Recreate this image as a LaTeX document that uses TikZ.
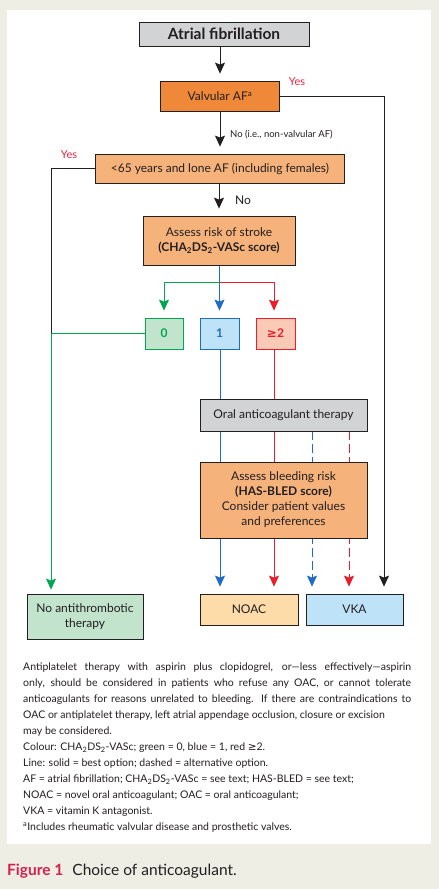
\documentclass[tikz,border=0pt]{standalone}
\usepackage{fontspec}
\setmainfont{Lato}
\newfontfamily\symfont{DejaVu Sans}
\usetikzlibrary{arrows.meta,backgrounds,positioning}

\definecolor{paper}{HTML}{EEEEE4}
\definecolor{ink}{HTML}{231F20}
\definecolor{graybox}{HTML}{D1D3D4}
\definecolor{darkorange}{HTML}{F0883A}
\definecolor{lightorange}{HTML}{F6B27B}
\definecolor{cgreen}{HTML}{00A650}
\definecolor{cblue}{HTML}{1F6CC4}
\definecolor{cred}{HTML}{EC1C2A}
\definecolor{greenfill}{HTML}{C2E4CD}
\definecolor{bluefill}{HTML}{BEE3F8}
\definecolor{pinkfill}{HTML}{F9CAB6}
\definecolor{noacfill}{HTML}{FDDCAA}
\definecolor{yesred}{HTML}{EE2443}
\definecolor{figred}{HTML}{D6204E}

\newcommand{\sub}[1]{\textsubscript{#1}}

\begin{document}
\begin{tikzpicture}[x=1pt, y=-1pt,
    box/.style = {draw=ink, line width=0.8pt, inner sep=0pt, align=center, text=ink,
                  font=\fontsize{12}{15}\selectfont},
    score/.style = {box, minimum width=39pt, minimum height=31pt, font=\fontsize{12}{15}\selectfont\bfseries},
    link/.style = {line width=0.9pt, draw=#1},
    link/.default = ink,
    arr/.style = {link=#1, -{Stealth[length=11pt, width=10pt, inset=2pt, fill=#1]}, shorten >=7pt},
    arr/.default = ink,
    alt/.style = {dash pattern=on 9pt off 4pt},
    yes/.style = {text=yesred, font=\fontsize{11}{13}\selectfont, inner sep=0pt}]

\useasboundingbox (0,0) rectangle (439,889);

% boxes
\node[box, fill=graybox, minimum width=170pt, minimum height=24pt,
      font=\fontsize{15.5}{17}\selectfont\bfseries] (af) at (224,34) {Atrial fibrillation};
\node[box, fill=darkorange, minimum width=119pt, minimum height=30pt] (valv) at (220,96)
      {Valvular AF\textsuperscript{a}};
\node[box, fill=lightorange, minimum width=249pt, minimum height=29pt] (lone) at (220,168.5)
      {<65 years and lone AF (including females)};
\node[box, fill=lightorange, minimum width=152pt, minimum height=49pt] (stroke) at (219,240.5)
      {Assess risk of stroke\\\textbf{(CHA\sub{2}DS\sub{2}-VASc score)}};

\node[score, draw=cgreen, fill=greenfill, text=cgreen, minimum width=38pt] (s0) at (164,333.5) {0};
\node[score, draw=cblue, fill=bluefill, text=cblue] (s1) at (219.5,333.5) {1};
\node[score, draw=cred, fill=pinkfill, text=cred] (s2) at (275.5,333.5) {{\symfont\bfseries ≥}2};

\node[box, fill=graybox, minimum width=167pt, minimum height=32pt] (oac) at (283.5,415)
      {Oral anticoagulant therapy};
\node[box, fill=lightorange, minimum width=167pt, minimum height=76pt] (bleed) at (283.5,500)
      {Assess bleeding risk\\\textbf{(HAS-BLED score)}\\Consider patient values\\and preferences};

\node[box, fill=greenfill, minimum width=116pt, minimum height=45pt] (none) at (85,616.5)
      {No antithrombotic\\therapy};
\node[box, fill=noacfill, minimum width=98pt, minimum height=31pt] (noac) at (249,609.5) {NOAC};
\node[box, fill=bluefill, minimum width=97pt, minimum height=31pt] (vka) at (354.5,609.5) {VKA};

% labels
\node[yes] (yes1) at (297,82) {Yes};
\node[yes] (yes2) at (69,155) {Yes};
\node[anchor=west, inner sep=0pt, text=ink, font=\fontsize{9.5}{11}\selectfont] (no1) at (230,135)
      {No (i.e., non-valvular AF)};
\node[anchor=west, inner sep=0pt, text=ink, font=\fontsize{12}{14}\selectfont] (no2) at (235,200) {No};

\coordinate (split) at (219.5,282);
\coordinate (yesturn) at (384,96);
\coordinate (loneturn) at (51,168.5);
\coordinate (greenturn) at (51,333.5);

\begin{pgfonlayer}{background}
  \fill[paper] (0,0) rectangle (439,889);
  \fill[white] (7,10) rectangle (431,844);

  \draw[arr] (af.south -| valv.north) -- (valv.north);
  \draw[link] (valv.east) -- (yesturn);
  \draw[arr] (yesturn) -- (yesturn |- vka.north);
  \draw[arr] (valv.south) -- (lone.north);
  \draw[arr] (lone.south -| stroke.south) -- (stroke.north);
  \draw[link] (lone.west) -- (loneturn) -- (greenturn);

  \draw[link=cblue] (stroke.south -| split) -- (split);
  \draw[arr=cblue] (split) -- (s1.north);
  \draw[arr=cgreen] (split) -| (s0.north);
  \draw[arr=cred] (split) -| (s2.north -| 274,0);
  \draw[arr=cgreen, shorten >=4pt] (s0.west) -- (greenturn) -- (greenturn |- none.north);

  \draw[arr=cblue] (s1.south -| 220,0) -- (noac.north -| 220,0);
  \draw[arr=cred] (s2.south -| 274,0) -- (noac.north -| 274,0);
  \draw[arr=cblue, alt] (oac.south -| 312,0) -- (vka.north -| 312,0);
  \draw[arr=cred, alt] (oac.south -| 349,0) -- (vka.north -| 349,0);
\end{pgfonlayer}

% footnote
\node[anchor=north west, inner sep=0pt, text=ink, text width=388pt, align=justify,
      font=\fontsize{10.5}{16}\selectfont] (notes) at (23,663)
  {Antiplatelet therapy with aspirin plus clopidogrel, or---less effectively---aspirin\linebreak
   only, should be considered in patients who refuse any OAC, or cannot tolerate\linebreak
   anticoagulants for reasons unrelated to bleeding. If there are contraindications to\linebreak
   OAC or antiplatelet therapy, left atrial appendage occlusion, closure or excision\newline
   may be considered.\newline
   Colour: CHA\sub{2}DS\sub{2}-VASc; green = 0, blue = 1, red {\symfont ≥}2.\newline
   Line: solid = best option; dashed = alternative option.\newline
   AF = atrial fibrillation; CHA\sub{2}DS\sub{2}-VASc = see text; HAS-BLED = see text;\newline
   NOAC = novel oral anticoagulant; OAC = oral anticoagulant;\newline
   VKA = vitamin K antagonist.\newline
   \textsuperscript{a}Includes rheumatic valvular disease and prosthetic valves.};

\node[anchor=base west, inner sep=0pt, text=ink, font=\fontsize{15.5}{18}\selectfont] (caption) at (7,875)
  {\textcolor{figred}{\bfseries Figure 1}\hspace{9pt}Choice of anticoagulant.};
\end{tikzpicture}
\end{document}
